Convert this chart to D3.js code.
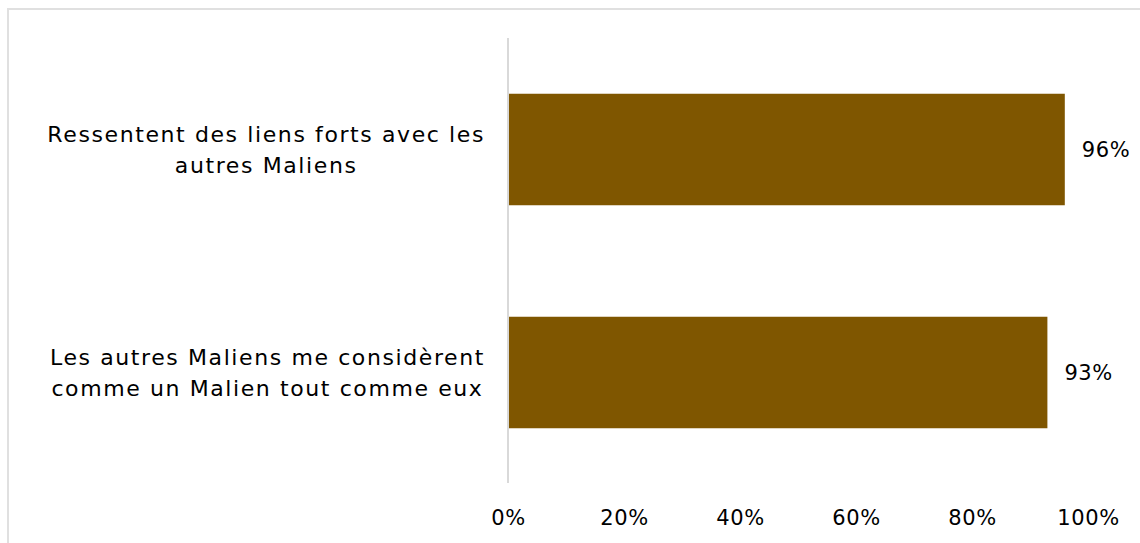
<!DOCTYPE html>
<html>
<head>
<meta charset="utf-8">
<script src="https://cdn.jsdelivr.net/npm/d3@7"></script>
<style>
	body { margin: 0; background: #fff; }
	svg text { font-family: "DejaVu Sans", sans-serif; fill: #000; }
</style>
</head>
<body>
<div id="chart"></div>
<script>
//Data
var categories = [
	["Ressentent des liens forts avec les", "autres Maliens"],
	["Les autres Maliens me considèrent", "comme un Malien tout comme eux"]
];
var values = [0.96, 0.93];
var valueLabels = ["96%", "93%"];
var ticks = [0, 0.2, 0.4, 0.6, 0.8, 1];

var W = 1140, H = 543;
var svg = d3.select('#chart')
	.append('svg')
	.attr('width', W)
	.attr('height', H);

//Frame
svg.append("path")
	.attr("d", "M8," + H + " V9 H" + W)
	.attr("fill", "none")
	.attr("stroke", "#e0e0e0")
	.attr("stroke-width", 2);

//Scales
var x = d3.scaleLinear().domain([0, 1]).range([508, 1088]);
var y = d3.scaleBand()
	.domain(d3.range(categories.length))
	.range([38, 484])
	.paddingInner(0.5)
	.paddingOuter(0.25);

//x axis (labels only)
var xAxis = svg.append("g")
	.attr("class", "x axis")
	.attr("transform", "translate(0,483)")
	.call(d3.axisBottom(x).tickValues(ticks).tickFormat(d3.format(".0%")).tickSize(0).tickPadding(27));
xAxis.select(".domain").remove();
xAxis.selectAll("text")
	.attr("font-size", 21)
	.attr("letter-spacing", 0.6)
	.attr("font-family", "DejaVu Sans")
	.attr("fill", "#000");

//vertical axis line
svg.append("line")
	.attr("x1", x(0)).attr("x2", x(0))
	.attr("y1", 38).attr("y2", 483)
	.attr("stroke", "#d9d9d9")
	.attr("stroke-width", 2);

//bars
svg.selectAll(".bar")
	.data(values)
	.enter()
	.append("rect")
	.attr("class", "bar")
	.attr("x", x(0) + 1)
	.attr("y", function(d, i) { return y(i); })
	.attr("width", function(d) { return x(d) - x(0) - 1; })
	.attr("height", y.bandwidth())
	.attr("fill", "#7f5600");

//value labels
svg.selectAll(".val")
	.data(values)
	.enter()
	.append("text")
	.attr("class", "val")
	.attr("x", function(d) { return x(d) + 17; })
	.attr("y", function(d, i) { return y(i) + y.bandwidth() / 2; })
	.attr("dy", "0.35em")
	.attr("font-size", 21)
	.attr("letter-spacing", 0.6)
	.text(function(d, i) { return valueLabels[i]; });

//category labels: lines centred within a right-aligned block
var lineH = 31;
categories.forEach(function(lines, i) {
	var g = svg.append("text")
		.attr("font-size", 22)
		.attr("letter-spacing", 1.6)
		.attr("text-anchor", "middle");
	var spans = lines.map(function(l, j) {
		return g.append("tspan")
			.attr("y", y(i) + y.bandwidth() / 2 + (j - (lines.length - 1) / 2) * lineH)
			.attr("dy", "0.35em")
			.text(l);
	});
	var maxW = d3.max(spans, function(s) { return s.node().getComputedTextLength(); });
	var cx = 485 - maxW / 2;
	spans.forEach(function(s) { s.attr("x", cx); });
});
</script>
</body>
</html>
